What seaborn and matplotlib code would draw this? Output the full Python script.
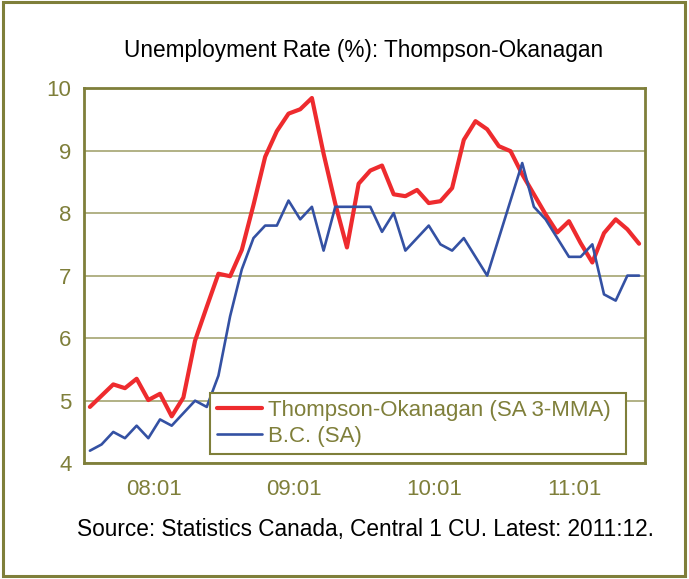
import numpy as np
import pandas as pd
import matplotlib
matplotlib.use("Agg")
import matplotlib.pyplot as plt
import seaborn as sns
from matplotlib.patches import Rectangle

# monthly data, 2008:01 - 2011:12
months = [f"{y % 100:02d}:{m:02d}" for y in range(2008, 2012) for m in range(1, 13)]
thompson = [4.9, 5.08, 5.26, 5.2, 5.35, 5.01, 5.11, 4.75, 5.05, 5.96, 6.5, 7.03,
            6.99, 7.41, 8.13, 8.9, 9.31, 9.59, 9.66, 9.84, 8.95, 8.15, 7.45, 8.47,
            8.68, 8.76, 8.3, 8.27, 8.37, 8.16, 8.19, 8.4, 9.17, 9.47, 9.34, 9.07,
            8.99, 8.62, 8.3, 7.98, 7.69, 7.87, 7.52, 7.21, 7.68, 7.9, 7.74, 7.51]
bc = [4.2, 4.3, 4.5, 4.4, 4.6, 4.4, 4.7, 4.6, 4.8, 5.0, 4.9, 5.4,
      6.35, 7.1, 7.6, 7.8, 7.8, 8.2, 7.9, 8.1, 7.4, 8.1, 8.1, 8.1,
      8.1, 7.7, 8.0, 7.4, 7.6, 7.8, 7.5, 7.4, 7.6, 7.3, 7.0, 7.6,
      8.2, 8.8, 8.1, 7.9, 7.6, 7.3, 7.3, 7.5, 6.7, 6.6, 7.0, 7.0]
year_labels = ["08:01", "09:01", "10:01", "11:01"]
series_names = ["Thompson-Okanagan (SA 3-MMA)", "B.C. (SA)"]

olive = "#7f7f3a"
grid_col = "#abab7c"
red = "#ee2b2e"
blue = "#3451a3"

sns.set_style("white")
plt.rcParams['font.family'] = ['Liberation Sans', 'DejaVu Sans']

df = pd.DataFrame({"month": months, "idx": np.arange(len(months)),
                   series_names[0]: thompson, series_names[1]: bc})
long = df.melt(id_vars=["month", "idx"], value_vars=series_names,
               var_name="series", value_name="rate")

fig = plt.figure(figsize=(6.89, 5.79), dpi=100)
ax = fig.add_axes([0.122, 0.2, 0.814, 0.648])

sns.lineplot(data=long, x="idx", y="rate", hue="series", size="series",
             sizes={series_names[0]: 3.0, series_names[1]: 1.9},
             palette={series_names[0]: red, series_names[1]: blue},
             ax=ax, legend=False)

ax.set_xlim(-0.5, len(months) - 0.5)
ax.set_ylim(4, 10)
ax.set_yticks(range(4, 11))
ax.yaxis.grid(True, color=grid_col, linewidth=1.3)
ax.set_axisbelow(True)

# year boundaries as major ticks, months as minor ticks
ax.set_xticks(np.arange(-0.5, len(months), 12))
ax.set_xticklabels([""] * len(ax.get_xticks()))
ax.set_xticks(np.arange(-0.5, len(months), 1), minor=True)
ax.tick_params(axis="x", which="major", length=8, width=1, color=olive, direction="out")
ax.tick_params(axis="x", which="minor", length=4, width=1, color=olive, direction="out")
ax.tick_params(axis="y", length=6, width=1, color=olive, labelcolor=olive,
               labelsize=16, pad=3)
for i, lab in enumerate(year_labels):
    ax.text(5.5 + 12 * i, -0.07, lab, transform=ax.get_xaxis_transform(),
            ha="center", va="center", color=olive, fontsize=16)

for s in ax.spines.values():
    s.set_visible(True)
    s.set_color(olive)
    s.set_linewidth(2)
ax.set_xlabel("")
ax.set_ylabel("")

handles = [plt.Line2D([], [], color=red, lw=3.0),
           plt.Line2D([], [], color=blue, lw=1.9)]
leg = ax.legend(handles, series_names, loc="lower left",
                bbox_to_anchor=(0.225, 0.024, 0.741, 0.16), mode="expand",
                fontsize=16, frameon=True, fancybox=False, framealpha=1,
                edgecolor=olive, handlelength=2.0, handletextpad=0.3,
                borderaxespad=0, labelspacing=0.22, borderpad=0.32)
leg.get_frame().set_linewidth(1.5)
for t in leg.get_texts():
    t.set_color(olive)

fig.text(0.528, 0.913, "Unemployment Rate (%): Thompson-Okanagan",
         ha="center", va="center", fontsize=16.3, color="black")
fig.text(0.531, 0.085, "Source: Statistics Canada, Central 1 CU. Latest: 2011:12.",
         ha="center", va="center", fontsize=16.3, color="black")

fig.patches.append(Rectangle((0.004, 0.006), 0.99, 0.99, transform=fig.transFigure,
                             fill=False, edgecolor=olive, linewidth=2.2))

fig.savefig("out.png", dpi=100)
